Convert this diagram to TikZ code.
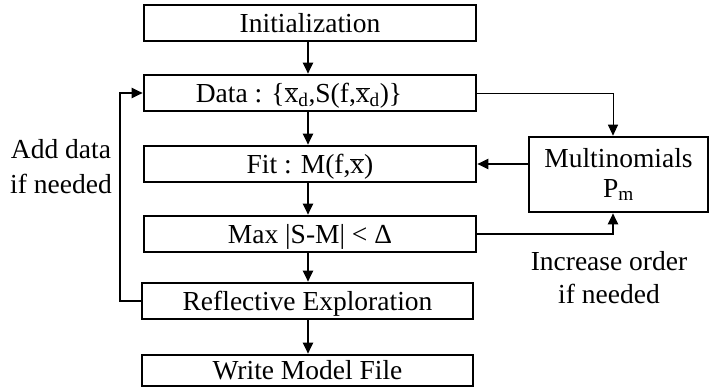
\documentclass[tikz,border=0pt]{standalone}
\usepackage{fontspec}
\setmainfont{Liberation Serif}
\usetikzlibrary{arrows.meta}
\newcommand\xbr{$\overline{\mbox{x}}$}
\begin{document}
\begin{tikzpicture}[x=1pt,y=-1pt,
  font=\fontsize{27.5}{30}\selectfont,
  stepbox/.style={draw, line width=2.6pt, minimum width=332pt, minimum height=36pt,
    inner sep=0pt, text height=18pt, text depth=0pt},
  arr/.style={line width=2pt, -{Triangle[length=11pt,width=10pt]}},
  thinarr/.style={line width=1pt, -{Triangle[length=11pt,width=10pt]}},
  lbl/.style={anchor=base, inner sep=0pt}]
\useasboundingbox (0,0) rectangle (709,388);
\coordinate (ax) at (308,0);
\coordinate (fb) at (120,0);
\coordinate (mc) at (613,0);
\node[stepbox] (init) at (310,23) {Initialization};
\node[stepbox] (data) at (310,93) {Data : \{\xbr\textsubscript{d},S(f,\xbr\textsubscript{d})\}\hspace*{22pt}};
\node[stepbox] (fit) at (310,164) {Fit : M(f,\xbr)};
\node[stepbox] (max) at (310,234) {Max |S-M| < Δ};
\node[stepbox, minimum width=331pt] (refl) at (307.5,301) {Reflective Exploration};
\node[stepbox, minimum width=331pt, minimum height=31pt] (write) at (307.5,370.5) {Write Model File};
\node[draw, line width=2.6pt, minimum width=179pt, minimum height=75pt, inner sep=0pt,
  align=center] (multi) at (618.5,174.5) {Multinomials\\P\textsubscript{m}};
\draw[arr] (init.south -| ax) -- (data.north -| ax);
\draw[arr] (data.south -| ax) -- (fit.north -| ax);
\draw[arr] (fit.south -| ax) -- (max.north -| ax);
\draw[arr] (max.south -| ax) -- (refl.north -| ax);
\draw[arr] (refl.south -| ax) -- (write.north -| ax);
\draw[arr] (refl.west) -- (refl.west -| fb) |- (data.west);
\draw[thinarr] (data.east) -| (multi.north -| mc);
\draw[arr] (fit.east -| multi.west) -- (fit.east);
\draw[arr] (max.east) -| (multi.south -| mc);
\node[lbl] (add1) at (61,158) {Add data};
\node[lbl] (add2) at (61,193) {if needed};
\node[lbl] (inc1) at (609,270) {Increase order};
\node[lbl] (inc2) at (609,303) {if needed};
\end{tikzpicture}
\end{document}
